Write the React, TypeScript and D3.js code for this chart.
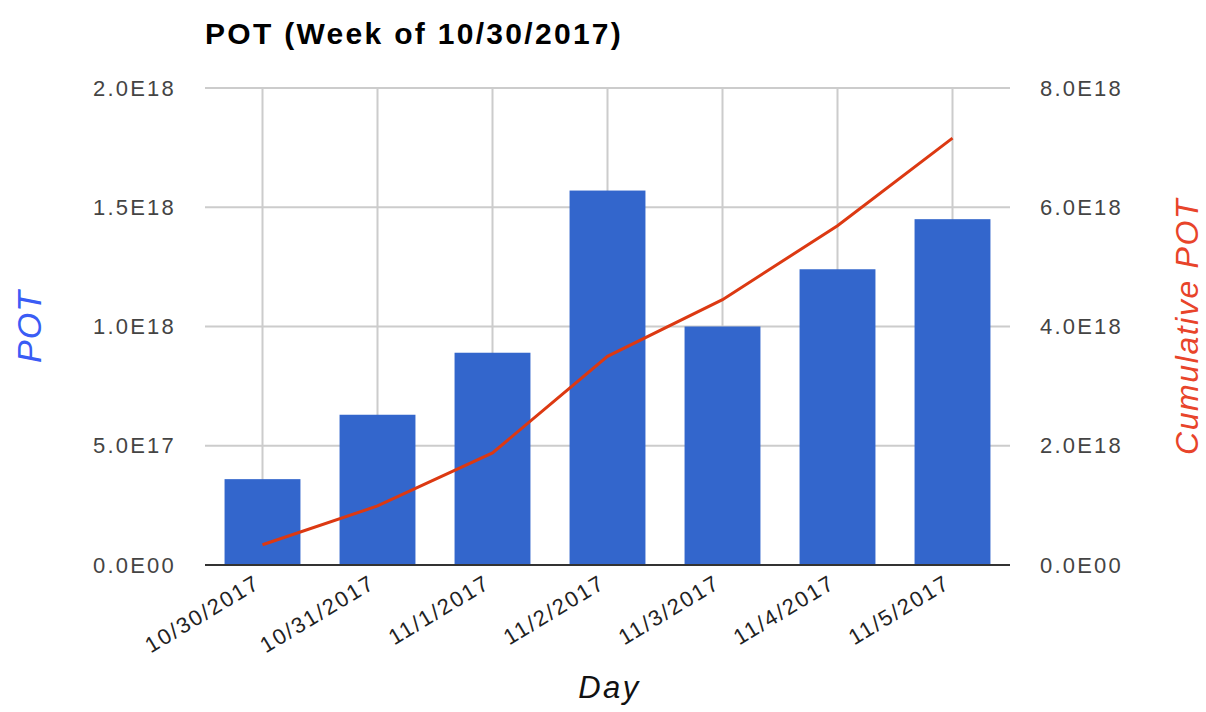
import * as d3 from 'd3';
import { useEffect, useRef } from 'react';

const days = ['10/30/2017', '10/31/2017', '11/1/2017', '11/2/2017', '11/3/2017', '11/4/2017', '11/5/2017'];
const pot = [3.6e17, 6.3e17, 8.9e17, 1.57e18, 1.0e18, 1.24e18, 1.45e18];
const cumulativePot = [3.4e17, 9.9e17, 1.88e18, 3.5e18, 4.45e18, 5.69e18, 7.16e18];
const leftTicks = [0, 5e17, 1e18, 1.5e18, 2e18];
const rightTicks = [0, 2e18, 4e18, 6e18, 8e18];

const fmt = (v: number) => {
    if (v === 0) return '0.0E00';
    const e = Math.floor(Math.log10(v));
    return (v / Math.pow(10, e)).toFixed(1) + 'E' + e;
};

function App() {
    const ref = useRef<SVGSVGElement>(null);

    useEffect(() => {
        const W = 1206, H = 712;
        const margin = { top: 88, right: 196, bottom: 147, left: 205 };
        const width = W - margin.left - margin.right;
        const height = H - margin.top - margin.bottom;
        const font = 'Liberation Sans, Arial, sans-serif';

        const root = d3.select(ref.current);
        root.selectAll('*').remove();

        const svg = root.append('g')
            .attr('transform', `translate(${margin.left},${margin.top})`);

        const x = d3.scaleBand().domain(days).range([0, width]).paddingInner(0.34).paddingOuter(0.17);
        const y = d3.scaleLinear().domain([0, 2e18]).range([height, 0]);
        const y2 = d3.scaleLinear().domain([0, 8e18]).range([height, 0]);
        const cx = (d: string) => (x(d) as number) + x.bandwidth() / 2;

        // grid
        svg.selectAll('.hgrid').data(leftTicks.slice(1)).enter().append('line')
            .attr('x1', 0).attr('x2', width)
            .attr('y1', d => y(d)).attr('y2', d => y(d))
            .attr('stroke', '#cccccc').attr('stroke-width', 2);
        svg.selectAll('.vgrid').data(days).enter().append('line')
            .attr('x1', d => cx(d)).attr('x2', d => cx(d))
            .attr('y1', 0).attr('y2', height)
            .attr('stroke', '#cccccc').attr('stroke-width', 2);

        // bars
        svg.selectAll('.bar').data(days).enter().append('rect')
            .attr('x', d => x(d) as number)
            .attr('y', (d, i) => y(pot[i]))
            .attr('width', x.bandwidth())
            .attr('height', (d, i) => height - y(pot[i]))
            .attr('fill', '#3366cc');

        // baseline
        svg.append('line').attr('x1', 0).attr('x2', width)
            .attr('y1', height).attr('y2', height)
            .attr('stroke', '#333333').attr('stroke-width', 2);

        // cumulative line
        const line = d3.line<number>()
            .x((d, i) => cx(days[i]))
            .y(d => y2(d));
        svg.append('path').datum(cumulativePot)
            .attr('d', line)
            .attr('fill', 'none')
            .attr('stroke', '#dc3912')
            .attr('stroke-width', 3);

        // left ticks
        svg.selectAll('.lt').data(leftTicks).enter().append('text')
            .attr('x', -29).attr('y', d => y(d)).attr('dy', '0.35em')
            .attr('text-anchor', 'end')
            .attr('font-family', font).attr('font-size', 22).attr('letter-spacing', 2.2).attr('fill', '#444')
            .text(d => fmt(d));
        // right ticks
        svg.selectAll('.rt').data(rightTicks).enter().append('text')
            .attr('x', width + 30).attr('y', d => y2(d)).attr('dy', '0.35em')
            .attr('text-anchor', 'start')
            .attr('font-family', font).attr('font-size', 22).attr('letter-spacing', 2.2).attr('fill', '#444')
            .text(d => fmt(d));

        // x labels
        svg.selectAll('.xl').data(days).enter().append('text')
            .attr('transform', d => `translate(${cx(d) - 1},${height + 22}) rotate(-31)`)
            .attr('text-anchor', 'end')
            .attr('font-family', font).attr('font-size', 22).attr('letter-spacing', 1.9).attr('fill', '#222')
            .text(d => d);

        // titles
        root.append('text')
            .attr('x', 205).attr('y', 44)
            .attr('font-family', font).attr('font-size', 30).attr('font-weight', 'bold')
            .attr('letter-spacing', 2.3)
            .attr('fill', '#000')
            .text('POT (Week of 10/30/2017)');

        root.append('text')
            .attr('transform', `translate(41,${margin.top + height / 2}) rotate(-90)`)
            .attr('text-anchor', 'middle')
            .attr('font-family', font).attr('font-size', 34).attr('font-style', 'italic')
            .attr('letter-spacing', 1)
            .attr('fill', '#3a5cf5')
            .text('POT');

        root.append('text')
            .attr('transform', `translate(1198,${margin.top + height / 2}) rotate(-90)`)
            .attr('text-anchor', 'middle')
            .attr('font-family', font).attr('font-size', 32).attr('font-style', 'italic')
            .attr('letter-spacing', 1.6)
            .attr('fill', '#e8442a')
            .text('Cumulative POT');

        root.append('text')
            .attr('x', margin.left + width / 2 + 2).attr('y', 698)
            .attr('text-anchor', 'middle')
            .attr('font-family', font).attr('font-size', 31).attr('font-style', 'italic')
            .attr('letter-spacing', 2.5)
            .attr('fill', '#111')
            .text('Day');
    }, []);

    return (
        <svg ref={ref} width={1206} height={712}
            style={{ position: 'absolute', left: 0, top: 0, background: '#fff' }} />
    );
}

export default App;
